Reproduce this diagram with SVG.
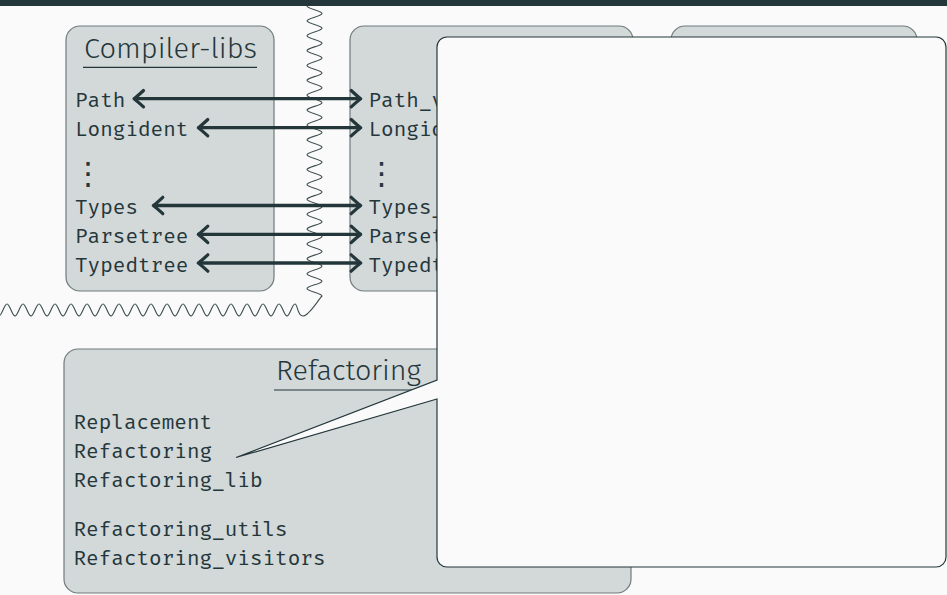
<svg xmlns="http://www.w3.org/2000/svg" width="947" height="595" viewBox="0 0 947 595">
  <style>
    .box { fill: #d3d8d9; stroke: #6e7b7d; stroke-width: 1.2; }
    .title { font-family: "Fira Sans", "Open Sans", "Noto Sans", sans-serif; font-weight: 300; font-size: 27.5px; fill: #23373b; }
    .rule { stroke: #23373b; stroke-width: 1.2; fill: none; }
    .mono { font-family: "Fira Mono", "DejaVu Sans Mono", monospace; font-size: 21px; fill: #23373b; }
    .vdots { font-family: "DejaVu Sans Mono", "DejaVu Sans", monospace; font-size: 31px; fill: #23373b; }
    .link { stroke: #23373b; stroke-width: 3.3; fill: none; marker-start: url(#head); marker-end: url(#head); }
    .wave { stroke: #3d4c50; stroke-width: 1.1; fill: none; }
    .callout { fill: #fafafa; stroke: #23373b; stroke-width: 1.2; stroke-linejoin: miter; }
  </style>
  <defs>
    <marker id="head" markerUnits="userSpaceOnUse" viewBox="-12 -11 14 22" markerWidth="14" markerHeight="22" refX="0" refY="0" orient="auto-start-reverse" overflow="visible">
      <path d="M-9.5,-8.2 Q-3.5,-2.6 0,0 Q-3.5,2.6 -9.5,8.2" fill="none" stroke="#23373b" stroke-width="3.2" stroke-linecap="round" stroke-linejoin="round"/>
    </marker>
  </defs>

  <!-- page background and frame bar -->
  <rect x="0" y="0" width="947" height="595" fill="#fafafa"/>
  <rect x="0" y="0" width="947" height="6" fill="#23373b"/>

  <!-- wavy cut line separating the compiler-libs corner -->
  <g id="separator">
    <path class="wave" d="M307,6 c0,2.677 15,4.759 15,7.436
      s-15,4.759 -15,7.436 s15,4.759 15,7.436 s-15,4.759 -15,7.436 s15,4.759 15,7.436
      s-15,4.759 -15,7.436 s15,4.759 15,7.436 s-15,4.759 -15,7.436 s15,4.759 15,7.436
      s-15,4.759 -15,7.436 s15,4.759 15,7.436 s-15,4.759 -15,7.436 s15,4.759 15,7.436
      s-15,4.759 -15,7.436 s15,4.759 15,7.436 s-15,4.759 -15,7.436 s15,4.759 15,7.436
      s-15,4.759 -15,7.436 s15,4.759 15,7.436 s-15,4.759 -15,7.436 s15,4.759 15,7.436
      s-15,4.759 -15,7.436 s15,4.759 15,7.436 s-15,4.759 -15,7.436 s15,4.759 15,7.436
      s-15,4.759 -15,7.436 s15,4.759 15,7.436 s-15,4.759 -15,7.436 s15,4.759 15,7.436
      s-15,4.759 -15,7.436 s15,4.759 15,7.436 s-15,4.759 -15,7.436 s15,4.759 15,7.436
      s-15,4.759 -15,7.436 s15,4.759 15,7.436 s-15,4.759 -15,7.436 s15,4.759 15,7.436
      s-15,4.759 -15,7.436 s15,4.759 15,7.436
      C318,300 309,316 303,316
      s-5.12,-12 -8,-12 s-5.12,12 -8,12 s-5.12,-12 -8,-12 s-5.12,12 -8,12
      s-5.12,-12 -8,-12 s-5.12,12 -8,12 s-5.12,-12 -8,-12 s-5.12,12 -8,12
      s-5.12,-12 -8,-12 s-5.12,12 -8,12 s-5.12,-12 -8,-12 s-5.12,12 -8,12
      s-5.12,-12 -8,-12 s-5.12,12 -8,12 s-5.12,-12 -8,-12 s-5.12,12 -8,12
      s-5.12,-12 -8,-12 s-5.12,12 -8,12 s-5.12,-12 -8,-12 s-5.12,12 -8,12
      s-5.12,-12 -8,-12 s-5.12,12 -8,12 s-5.12,-12 -8,-12 s-5.12,12 -8,12
      s-5.12,-12 -8,-12 s-5.12,12 -8,12 s-5.12,-12 -8,-12 s-5.12,12 -8,12
      s-5.12,-12 -8,-12 s-5.12,12 -8,12 s-5.12,-12 -8,-12 s-5.12,12 -8,12
      s-5.12,-12 -8,-12 s-5.12,12 -8,12 s-5.12,-12 -8,-12 s-5.12,12 -8,12
      s-5.12,-12 -8,-12 s-5.12,12 -8,12"/>
  </g>

  <!-- Compiler-libs module box -->
  <g id="compiler-libs">
    <rect class="box" x="66" y="26" width="208" height="265" rx="14"/>
    <text class="title" x="84" y="58" textLength="173" lengthAdjust="spacingAndGlyphs">Compiler-libs</text>
    <line class="rule" x1="83" y1="67.3" x2="257" y2="67.3"/>
    <text class="mono" x="75" y="106.5">Path</text>
    <text class="mono" x="75" y="135.5">Longident</text>
    <text class="vdots" x="72.5" y="184">⋮</text>
    <text class="mono" x="75" y="213.5">Types</text>
    <text class="mono" x="75" y="242.5">Parsetree</text>
    <text class="mono" x="75" y="271.5">Typedtree</text>
  </g>

  <!-- second module box, mostly covered by the callout -->
  <g id="box2">
    <rect class="box" x="350" y="26" width="283" height="265" rx="14"/>
    <text class="mono" x="368.5" y="106.5">Path_v</text>
    <text class="mono" x="368.5" y="135.5">Longid</text>
    <text class="vdots" x="366" y="184">⋮</text>
    <text class="mono" x="368.5" y="213.5">Types_</text>
    <text class="mono" x="368.5" y="242.5">Parset</text>
    <text class="mono" x="368.5" y="271.5">Typedt</text>
  </g>

  <!-- third module box, mostly covered by the callout -->
  <g id="box3">
    <rect class="box" x="671" y="26" width="246" height="265" rx="14"/>
  </g>

  <!-- Refactoring module box -->
  <g id="refactoring">
    <rect class="box" x="64" y="349" width="567" height="244" rx="14"/>
    <text class="title" x="276" y="379.5" textLength="145" lengthAdjust="spacingAndGlyphs">Refactoring</text>
    <line class="rule" x1="274" y1="390" x2="430" y2="390"/>
    <text class="mono" x="73.5" y="429">Replacement</text>
    <text class="mono" x="73.5" y="458">Refactoring</text>
    <text class="mono" x="73.5" y="487">Refactoring_lib</text>
    <text class="mono" x="73.5" y="536">Refactoring_utils</text>
    <text class="mono" x="73.5" y="565">Refactoring_visitors</text>
  </g>

  <!-- two-way correspondences between the module boxes -->
  <g id="connectors">
    <line class="link" x1="134" y1="98.7" x2="360.7" y2="98.7"/>
    <line class="link" x1="198.3" y1="127.7" x2="360.7" y2="127.7"/>
    <line class="link" x1="153.3" y1="205.5" x2="360.7" y2="205.5"/>
    <line class="link" x1="198.3" y1="234.4" x2="360.7" y2="234.4"/>
    <line class="link" x1="198.3" y1="263" x2="360.7" y2="263"/>
  </g>

  <!-- speech-bubble callout pointing at the Refactoring module -->
  <g id="callout">
    <path class="callout" d="M447,37 H936 A10,10 0 0 1 946,47 V557 A10,10 0 0 1 936,567 H447 A10,10 0 0 1 437,557 V399 L236,457.5 L437,380 V47 A10,10 0 0 1 447,37 Z"/>
  </g>
</svg>
